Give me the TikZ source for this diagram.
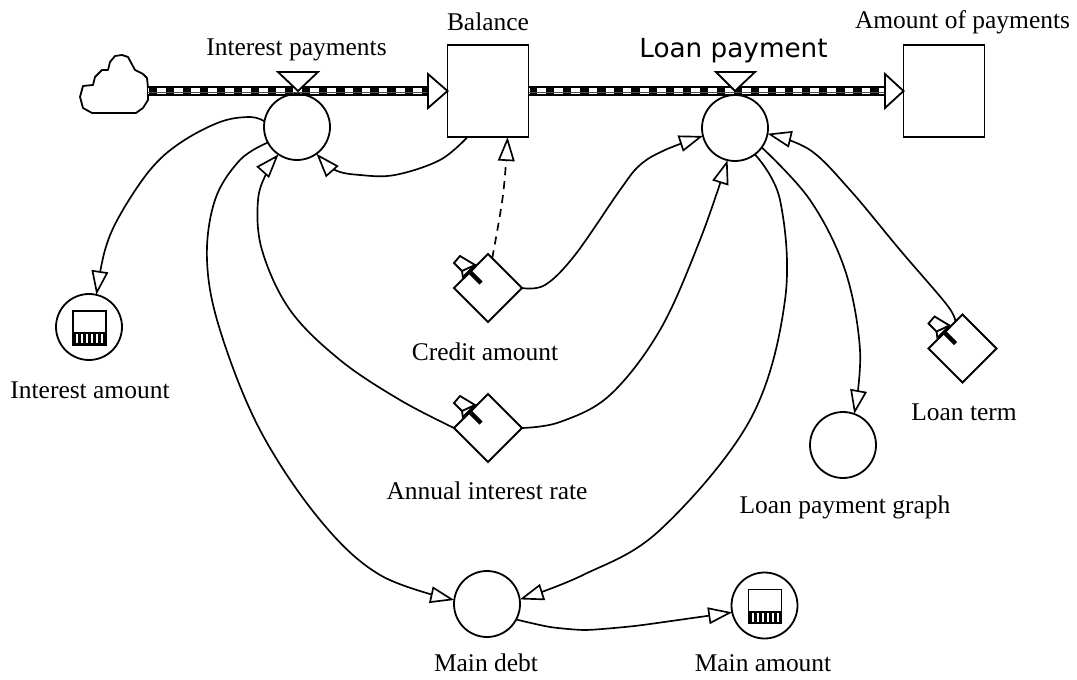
\documentclass[tikz,border=0pt]{standalone}
\usepackage{fontspec}
\setmainfont{Liberation Serif}
\newfontfamily\dejavu{DejaVu Sans}
\usetikzlibrary{arrows.meta,shapes.geometric}
\tikzset{
  stock/.style={draw,line width=1.35pt,minimum width=60.75pt,minimum height=69pt,inner sep=0pt,outer sep=0pt},
  aux/.style={draw,circle,line width=1.35pt,minimum size=49.5pt,inner sep=0pt,outer sep=0pt},
  const/.style={draw,diamond,line width=1.35pt,minimum size=51pt,inner sep=0pt,outer sep=0pt},
  lbl/.style={font=\fontsize{19.1pt}{20pt}\selectfont,inner sep=0pt},
  link/.style={line width=1.25pt,-{Triangle[open,fill=white,length=18pt,width=12.5pt]}},
  valve/.style={draw,fill=white,line width=1.35pt,line join=miter},
}
% pipe between two points
\newcommand{\flowpipe}[2]{
  \draw[line width=7.5pt] (#1) -- (#2);
  \draw[white,line width=3.9pt,dash pattern=on 6.6pt off 6.2pt,dash phase=6.2pt] (#1) -- (#2);
  \draw[line width=.6pt,black!70] ([yshift=-.9pt]#1) -- ([yshift=-.9pt]#2);
}
% tab on a constant
\newcommand{\consttab}[1]{
  \draw[valve] ([shift={(-28,-32)}]#1.center) -- ([shift={(-34,-25)}]#1.center) -- ([shift={(-26,-17)}]#1.center) -- ([shift={(-13,-23)}]#1.center) -- cycle;
  \draw[line width=1.35pt] ([shift={(-26,-17)}]#1.center) -- ([shift={(-25,-10)}]#1.center);
  \draw[line width=2.4pt] ([shift={(-25,-10)}]#1.center) -- ([shift={(-13,-22)}]#1.center);
  \draw[line width=3.2pt] ([shift={(-18,-16)}]#1.center) -- ([shift={(-7,-5)}]#1.center);
}
% gauge inside a circle
\newcommand{\gaugeicon}[1]{
  \draw[line width=1.2pt] ([shift={(-16,-16)}]#1.center) rectangle ([shift={(17,18)}]#1.center);
  \fill ([shift={(-16,5)}]#1.center) rectangle ([shift={(17,18)}]#1.center);
  \foreach \i in {-12,-7,-2,3,8,13}
    \fill[white] ([shift={(\i-1,7)}]#1.center) rectangle ([shift={(\i+1,16)}]#1.center);
}
\begin{document}
\begin{tikzpicture}[x=.75pt,y=-.75pt]
\useasboundingbox (0,0) rectangle (1077,680);
%% cloud
\draw[line width=1.35pt,line join=round] (148,88) -- (147,78) -- (143,74) -- (135,70) -- (128,57) -- (122,55) -- (115,56) -- (110,62) -- (108,70) -- (102,70) -- (95,77) -- (93,85) -- (83,86) -- (80,97) -- (83,108) -- (92,113) -- (136,113) -- (143,108) -- (148,100) -- cycle;
\coordinate (cloudend) at (148,91);
%% stocks
\node[stock] (balance) at (488,91) {};
\node[stock] (amount) at (944,91) {};
%% pipes
\coordinate (pipeone) at (428,91);
\coordinate (pipetwo) at (885,91);
\flowpipe{cloudend}{pipeone}
\flowpipe{balance.east}{pipetwo}
\draw[valve] (428,74) -- (balance.west) -- (428,108) -- cycle;
\draw[valve] (885,74) -- (amount.west) -- (885,108) -- cycle;
%% rates
\node[aux] (intpay) at (297,127) {};
\node[aux] (loanpay) at (735,128) {};
\draw[valve] (278,72) -- (318,72) -- (298,91) -- cycle;
\draw[valve] (716,72) -- (755,72) -- (735,91) -- cycle;
%% converters
\node[aux] (intamt) at (89,327) {};
\node[aux] (graph) at (843,445) {};
\node[aux] (maindebt) at (487,604) {};
\node[aux] (mainamt) at (764.5,605.5) {};
\gaugeicon{intamt}
\gaugeicon{mainamt}
%% constants
\node[const] (credit) at (488,288) {};
\node[const] (rate) at (488,428) {};
\node[const] (term) at (962.5,348.5) {};
\consttab{credit}
\consttab{rate}
\consttab{term}
%% links
\draw[link] plot[smooth,tension=.6] coordinates {(intpay.170) (250,117) (220,122) (180,143) (150,170) (120,215) (105,250) (intamt.77)};
\draw[link] plot[smooth,tension=.6] coordinates {(balance.246) (440,160) (395,175) (360,175) (335,170) (intpay.306)};
\draw[link,dash pattern=on 6pt off 4.5pt] plot[smooth,tension=.6] coordinates {(credit.82) (503,195) (balance.293)};
\draw[link] plot[smooth,tension=.6] coordinates {(credit.east) (545,285) (575,255) (620,190) (640,165) (665,150) (loanpay.194)};
\draw[link] plot[smooth,tension=.6] coordinates {(rate.east) (560,422) (610,395) (660,330) (700,240) (loanpay.257)};
\draw[link] plot[smooth,tension=.6] coordinates {(rate.west) (400,400) (340,360) (290,310) (262,250) (258,200) (268,170) (intpay.236)};
\draw[link] plot[smooth,tension=.6] coordinates {(intpay.208) (240,160) (215,200) (207,260) (220,330) (260,430) (320,520) (380,575) (maindebt.173)};
\draw[link] plot[smooth,tension=.6] coordinates {(loanpay.307) (780,200) (785,300) (750,420) (660,530) (583,575) (maindebt.8)};
\draw[link] plot[smooth,tension=.6] coordinates {(loanpay.324) (810,200) (845,270) (860,350) (graph.70)};
\draw[link] plot[smooth,tension=.6] coordinates {(term.105) (947,305) (900,250) (850,190) (810,150) (loanpay.350)};
\draw[link] plot[smooth,tension=.4] coordinates {(maindebt.332) (550,627) (585,630) (625,627) (650,624) (mainamt.192)};
%% labels
\node[lbl] (balancelbl) at (488,22) {Balance};
\node[lbl] (amountlbl) at (962.5,22) {Amount of payments};
\node[lbl] (intpaylbl) at (296.5,50) {Interest payments};
\node[lbl,font=\dejavu\fontsize{19.7pt}{20pt}\selectfont] (loanpaylbl) at (733.5,51) {Loan payment};
\node[lbl] (intamtlbl) at (90,390) {Interest amount};
\node[lbl] (creditlbl) at (485,352) {Credit amount};
\node[lbl] (ratelbl) at (487,491) {Annual interest rate};
\node[lbl] (graphlbl) at (845,507) {Loan payment graph};
\node[lbl] (termlbl) at (964,412) {Loan term};
\node[lbl] (maindebtlbl) at (486,663) {Main debt};
\node[lbl] (mainamtlbl) at (763,663) {Main amount};
\end{tikzpicture}
\end{document}
